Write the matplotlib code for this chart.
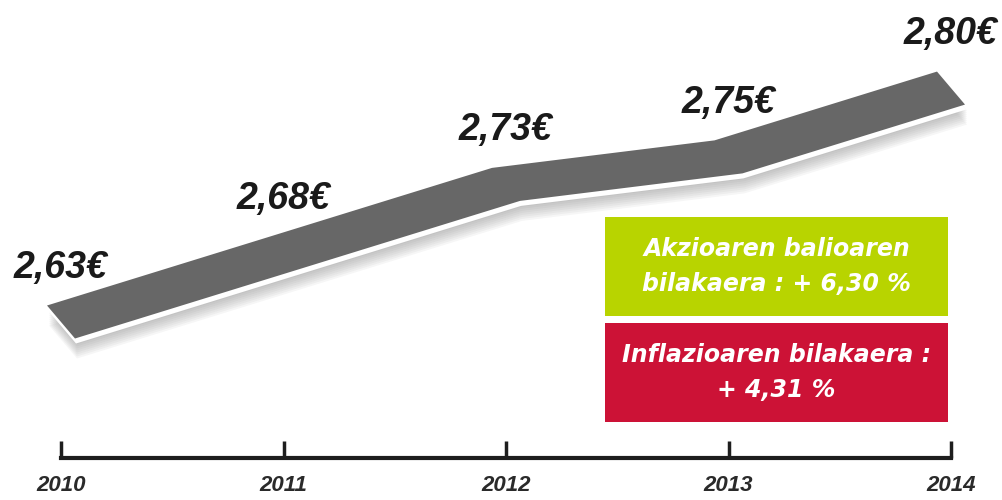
import numpy as np
import matplotlib.pyplot as plt
from matplotlib.patches import Polygon, Rectangle

# ── data ──────────────────────────────────────────────────────────────────────
years = [2010, 2011, 2012, 2013, 2014]
prices = [2.63, 2.68, 2.73, 2.75, 2.80]
price_labels = ["2,63€", "2,68€", "2,73€", "2,75€", "2,80€"]
box_texts = [
    "Akzioaren balioaren\nbilakaera : + 6,30 %",
    "Inflazioaren bilakaera :\n+ 4,31 %",
]
box_colors = ["#b8d400", "#cc1236"]

# ── canvas: axes fill the whole figure, scales set in pixels ─────────────────
W, H = 1003, 500
PX_YEAR = 222.5      # pixels per year
PX_EUR = 1376.0      # pixels per euro
X0, Y0 = 61, 322     # pixel position of (2010, 2.63) from top-left

fig = plt.figure(figsize=(W / 100, H / 100), dpi=100)
fig.patch.set_facecolor("white")
ax = fig.add_axes([0, 0, 1, 1])
ax.set_xlim(2010 - X0 / PX_YEAR, 2010 + (W - X0) / PX_YEAR)
ax.set_ylim(2.63 - (H - Y0) / PX_EUR, 2.63 + Y0 / PX_EUR)
dx = 1 / PX_YEAR
dy = 1 / PX_EUR

x = np.array(years, dtype=float)
y = np.array(prices)


def band(sx=0.0, sy=0.0):
    """Slanted ribbon around the price line, shifted by (sx, sy) pixels."""
    top = np.column_stack([x - 14 * dx + sx * dx, y + 16.5 * dy - sy * dy])
    bot = np.column_stack([x + 14 * dx + sx * dx, y - 16.5 * dy - sy * dy])
    return np.vstack([top, bot[::-1]])


# soft shadow under the ribbon
for k in range(6, 22, 2):
    ax.add_patch(Polygon(band(2, k), closed=True, facecolor="#808080",
                         edgecolor="none", alpha=0.07, zorder=1))
ax.add_patch(Polygon(band(1, 5), closed=True, facecolor="white",
                     edgecolor="none", zorder=2))
ax.add_patch(Polygon(band(), closed=True, facecolor="#676767",
                     edgecolor="none", zorder=3))

for xi, yi, lab in zip(x, y, price_labels):
    ax.text(xi, yi + 54 * dy, lab, ha="center", va="center",
            fontsize=27, fontweight="bold", style="italic",
            family="Liberation Sans", color="#1a1a1a", zorder=4)

# ── time axis ────────────────────────────────────────────────────────────────
for s in ["top", "left", "right"]:
    ax.spines[s].set_visible(False)
ax.spines["bottom"].set_position(("data", 2.63 - (458 - Y0) * dy))
ax.spines["bottom"].set_bounds(2010, 2014)
ax.spines["bottom"].set_linewidth(3)
ax.spines["bottom"].set_color("#1e1e1e")
ax.set_yticks([])
ax.set_xticks(years)
ax.set_xticklabels([str(v) for v in years])
ax.tick_params(axis="x", direction="in", length=12, width=2.5,
               color="#1e1e1e", pad=12, labelsize=16, labelcolor="#2a2a2a")
for lbl in ax.get_xticklabels():
    lbl.set_fontstyle("italic")
    lbl.set_fontweight("bold")
    lbl.set_family("Liberation Sans")
ax.set_facecolor("none")

# ── info boxes ───────────────────────────────────────────────────────────────
box_rows = [(217, 316), (323, 422)]
bx0, bx1 = 605, 948
for (t0, t1), txt, col in zip(box_rows, box_texts, box_colors):
    ax.add_patch(Rectangle((bx0 / W, 1 - t1 / H), (bx1 - bx0) / W,
                           (t1 - t0) / H, transform=ax.transAxes,
                           facecolor=col, edgecolor="none", zorder=5))
    ax.text((bx0 + bx1) / 2 / W, 1 - (t0 + t1) / 2 / H, txt,
            transform=ax.transAxes, ha="center", va="center",
            fontsize=17, fontweight="bold", style="italic",
            family="DejaVu Sans", color="white", linespacing=1.6, zorder=6)

fig.savefig("out.png", dpi=100)
